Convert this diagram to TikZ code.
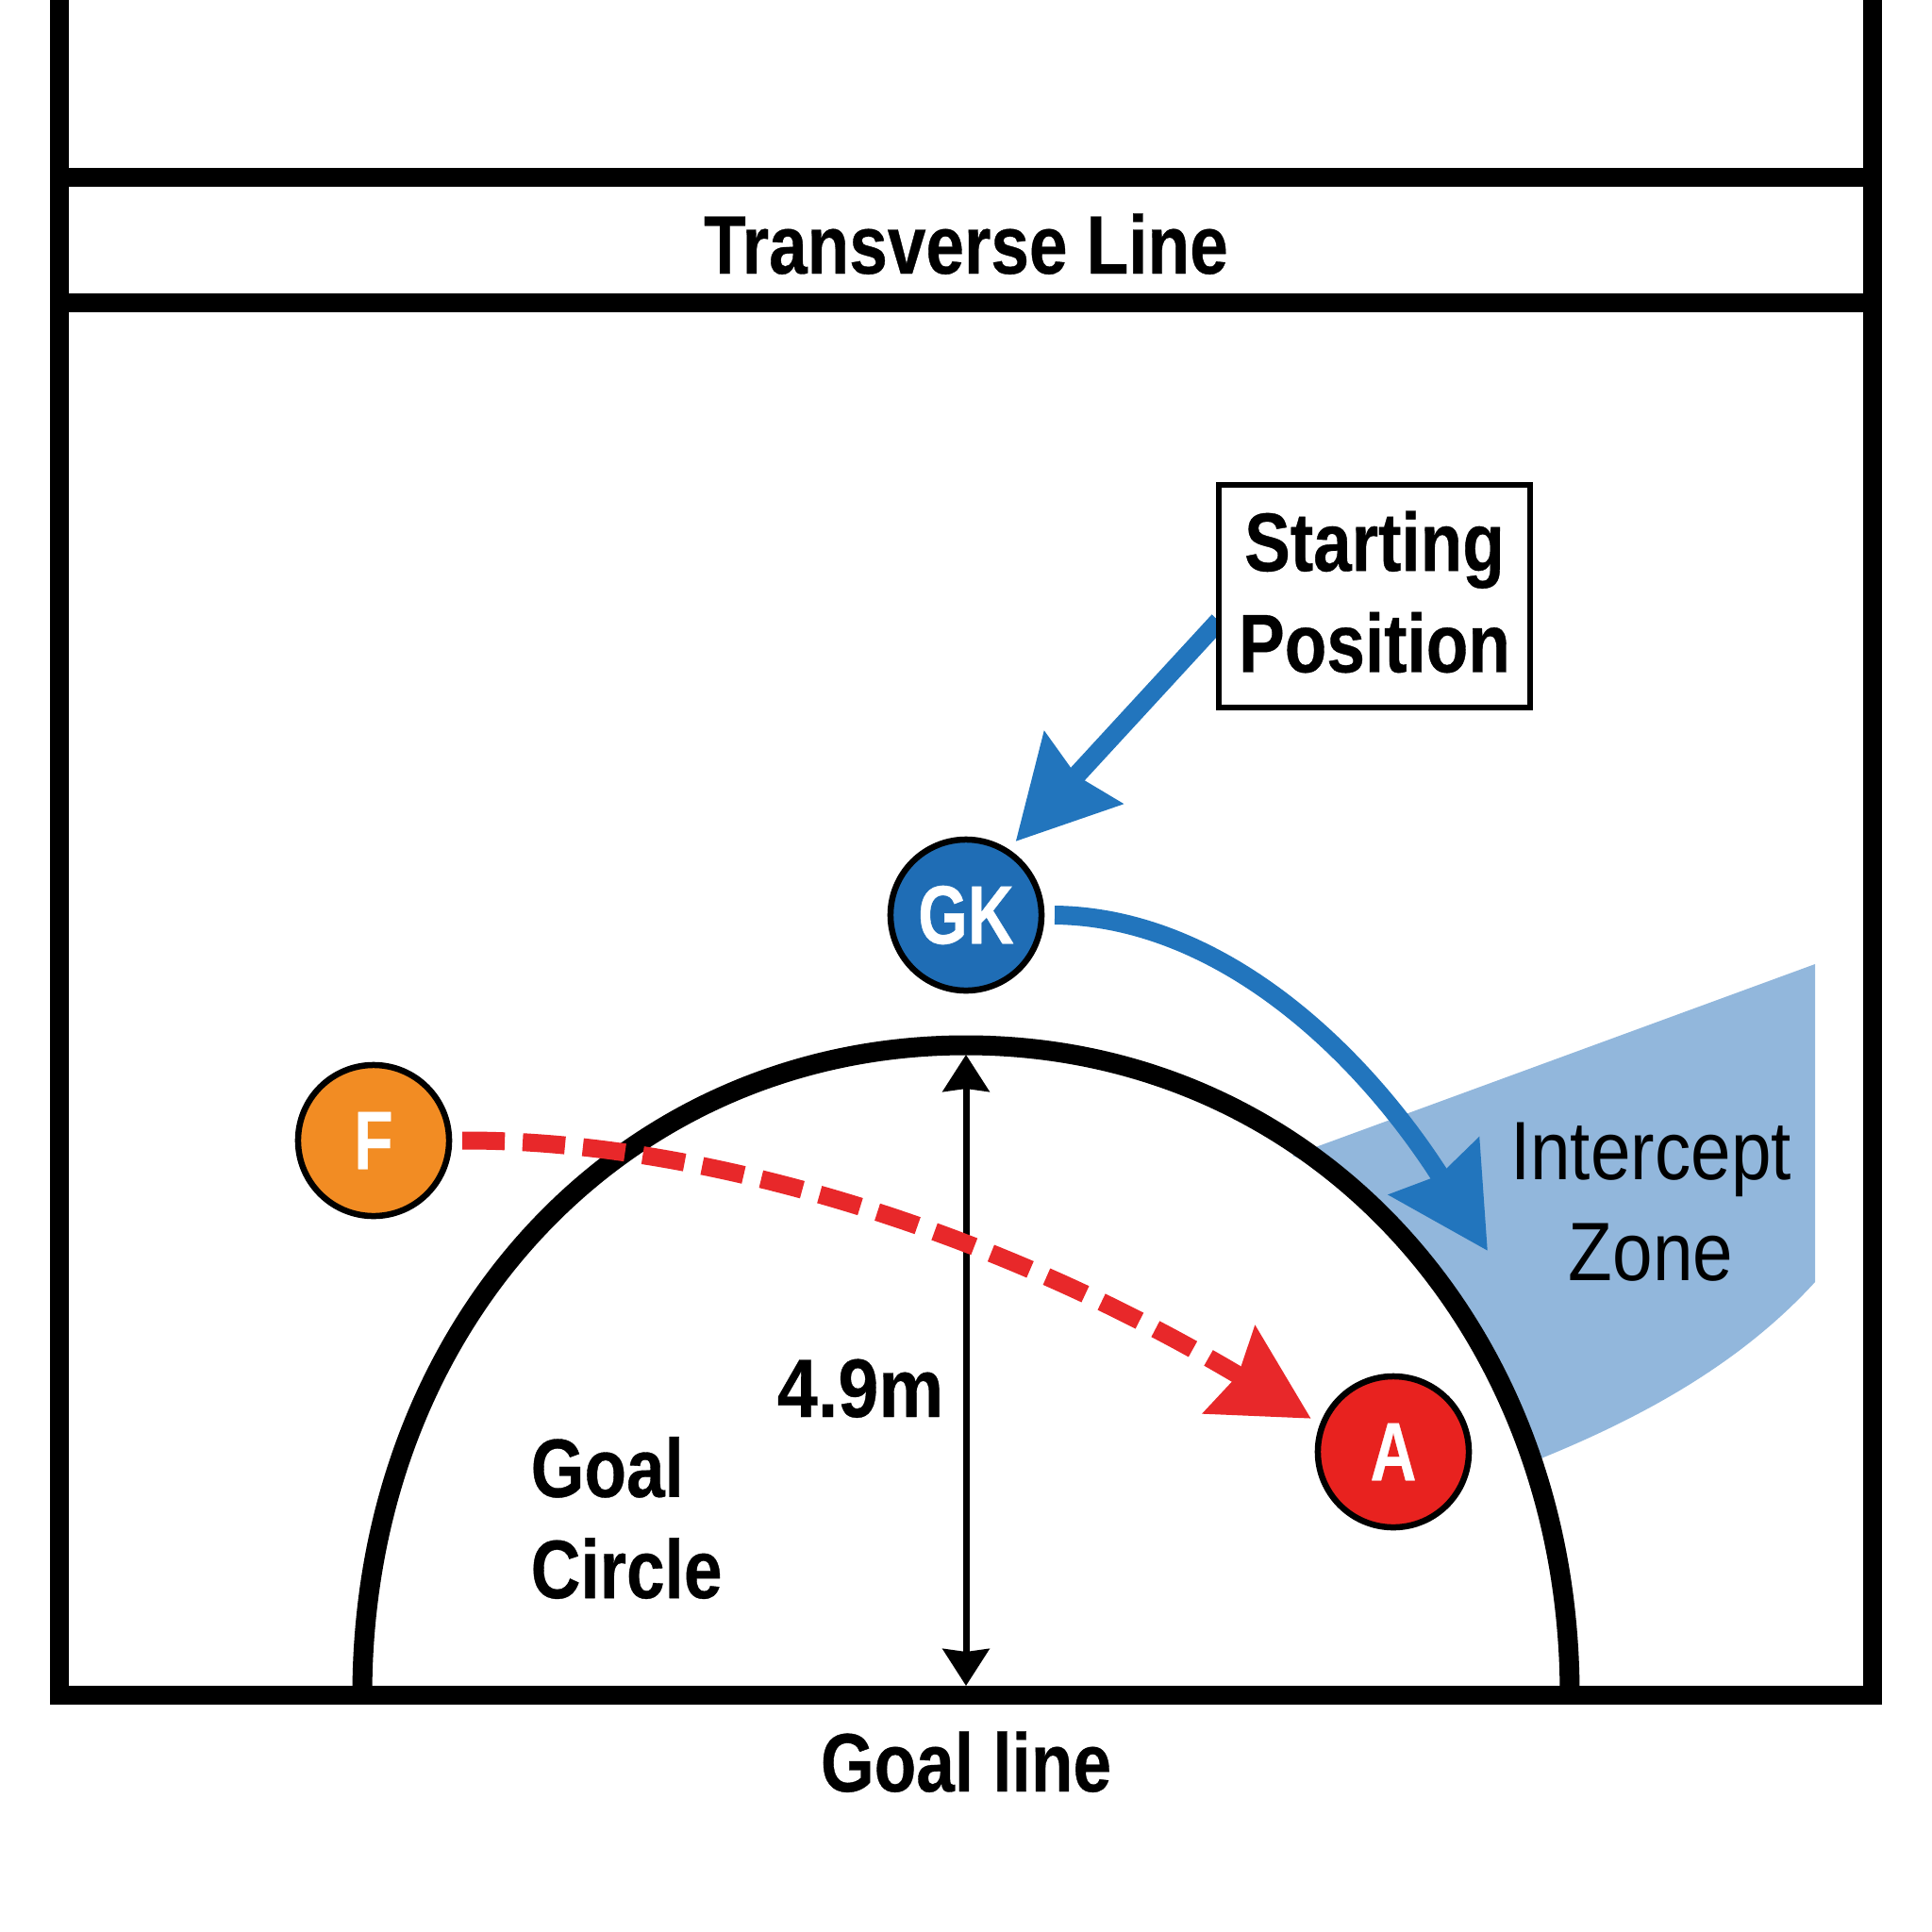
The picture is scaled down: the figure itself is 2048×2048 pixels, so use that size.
\documentclass[tikz,border=0pt]{standalone}
\usepackage{fontspec}
\setmainfont{Liberation Sans}
\newfontfamily\boldlabel[FakeStretch=0.83,FakeBold=0.4]{Liberation Sans Bold}
\newfontfamily\widelabel[FakeStretch=0.88,FakeBold=0.4]{Liberation Sans Bold}
\newfontfamily\playerlabel[FakeStretch=0.77,FakeBold=0.4]{Liberation Sans Bold}
\newfontfamily\thinlabel[FakeStretch=0.87]{Liberation Sans}
\usetikzlibrary{arrows.meta,positioning,backgrounds}
\definecolor{zoneBlue}{RGB}{146,183,220}
\definecolor{moveBlue}{RGB}{34,117,189}
\definecolor{gkBlue}{RGB}{31,109,181}
\definecolor{fOrange}{RGB}{242,140,35}
\definecolor{aRed}{RGB}{232,34,31}
\definecolor{passRed}{RGB}{232,40,42}

\tikzset{
  court/.style={line width=.2cm,miter limit=10},
  player/.style={circle,draw=black,line width=.065cm,minimum size=1.6cm,inner sep=0pt,outer sep=.14cm,
    text=white,font=\playerlabel\fontsize{25}{25}\selectfont},
  bigtext/.style={font=\boldlabel\fontsize{25}{30.5}\selectfont,inner sep=0pt},
  thintext/.style={font=\thinlabel\fontsize{25}{30.5}\selectfont,inner sep=0pt,align=center},
  run/.style={moveBlue,line width=.2cm,-{Stealth[length=1.05cm,width=1.1cm,inset=.1cm]}},
  pass/.style={passRed,line width=.19cm,dash pattern=on .45cm off .19cm,-{Stealth[length=1cm,width=1.05cm,inset=.1cm]}},
  dimline/.style={black,line width=.07cm,{Stealth[length=.39cm,width=.49cm,inset=.03cm]}-{Stealth[length=.39cm,width=.49cm,inset=.03cm]}}
}

\begin{document}
\begin{tikzpicture}[x=.01cm,y=-.01cm]
  \useasboundingbox (0,0) rectangle (2048,2048);

  % draw the intercept zone
  \fill[zoneBlue] (1370,1225) -- (1924,1022) -- (1924,1359)
    .. controls (1850,1440) and (1750,1500) .. (1621,1551)
    arc [start angle=21,end angle=55,x radius=6.4cm,y radius=6.89cm] -- cycle;

  % draw the court lines
  \draw[court] (63,0) -- (63,1797) -- (1985,1797) -- (1985,0);
  \foreach \y in {188,321}
    \draw[court] (63,\y) -- (1985,\y);
  \draw[court,line width=.21cm] (384,1797) .. controls (384,1404) and (659,1108) .. (1024,1108)
    .. controls (1389,1108) and (1664,1404) .. (1664,1797);

  % the players
  \foreach \name/\x/\y/\col in {F/396/1209/fOrange,GK/1024/970/gkBlue,A/1477/1539/aRed}
    \node[player,fill=\col] (\name) at (\x,\y) {\name};

  % the labels
  \node[bigtext,anchor=base] (transverse) at (1024,290) {Transverse Line};
  \node[bigtext,anchor=base] (goalline) at (1024,1899) {Goal line};
  \node[bigtext,anchor=base,font=\widelabel\fontsize{25}{30.5}\selectfont] (dist) at (912,1502) {4.9m};
  \node[bigtext,align=left,anchor=west] (goalcircle) at (562,1609) {Goal\\Circle};
  \node[thintext] (intercept) at (1750,1274) {Intercept\\Zone};
  \node[bigtext,align=center,fill=white,draw=black,line width=.055cm,minimum width=3.3cm,minimum height=2.36cm,
    outer sep=0pt,text depth=.1cm] (startbox) at (1457,632) {Starting\\Position};

  % draw the arrows
  \coordinate (circletop) at (1024,1118);
  \coordinate (linemid) at (1024,1787);
  \draw[dimline] (circletop) -- (linemid);
  \begin{scope}[on background layer]
    \draw[run] (startbox.189) -- (GK.56);
  \end{scope}
  \draw[run] (GK.east) .. controls (1290,972) and (1440,1110) .. (1577,1326);
  \draw[pass] (F.east) .. controls (730,1208) and (1040,1295) .. (A.158);
\end{tikzpicture}
\end{document}
